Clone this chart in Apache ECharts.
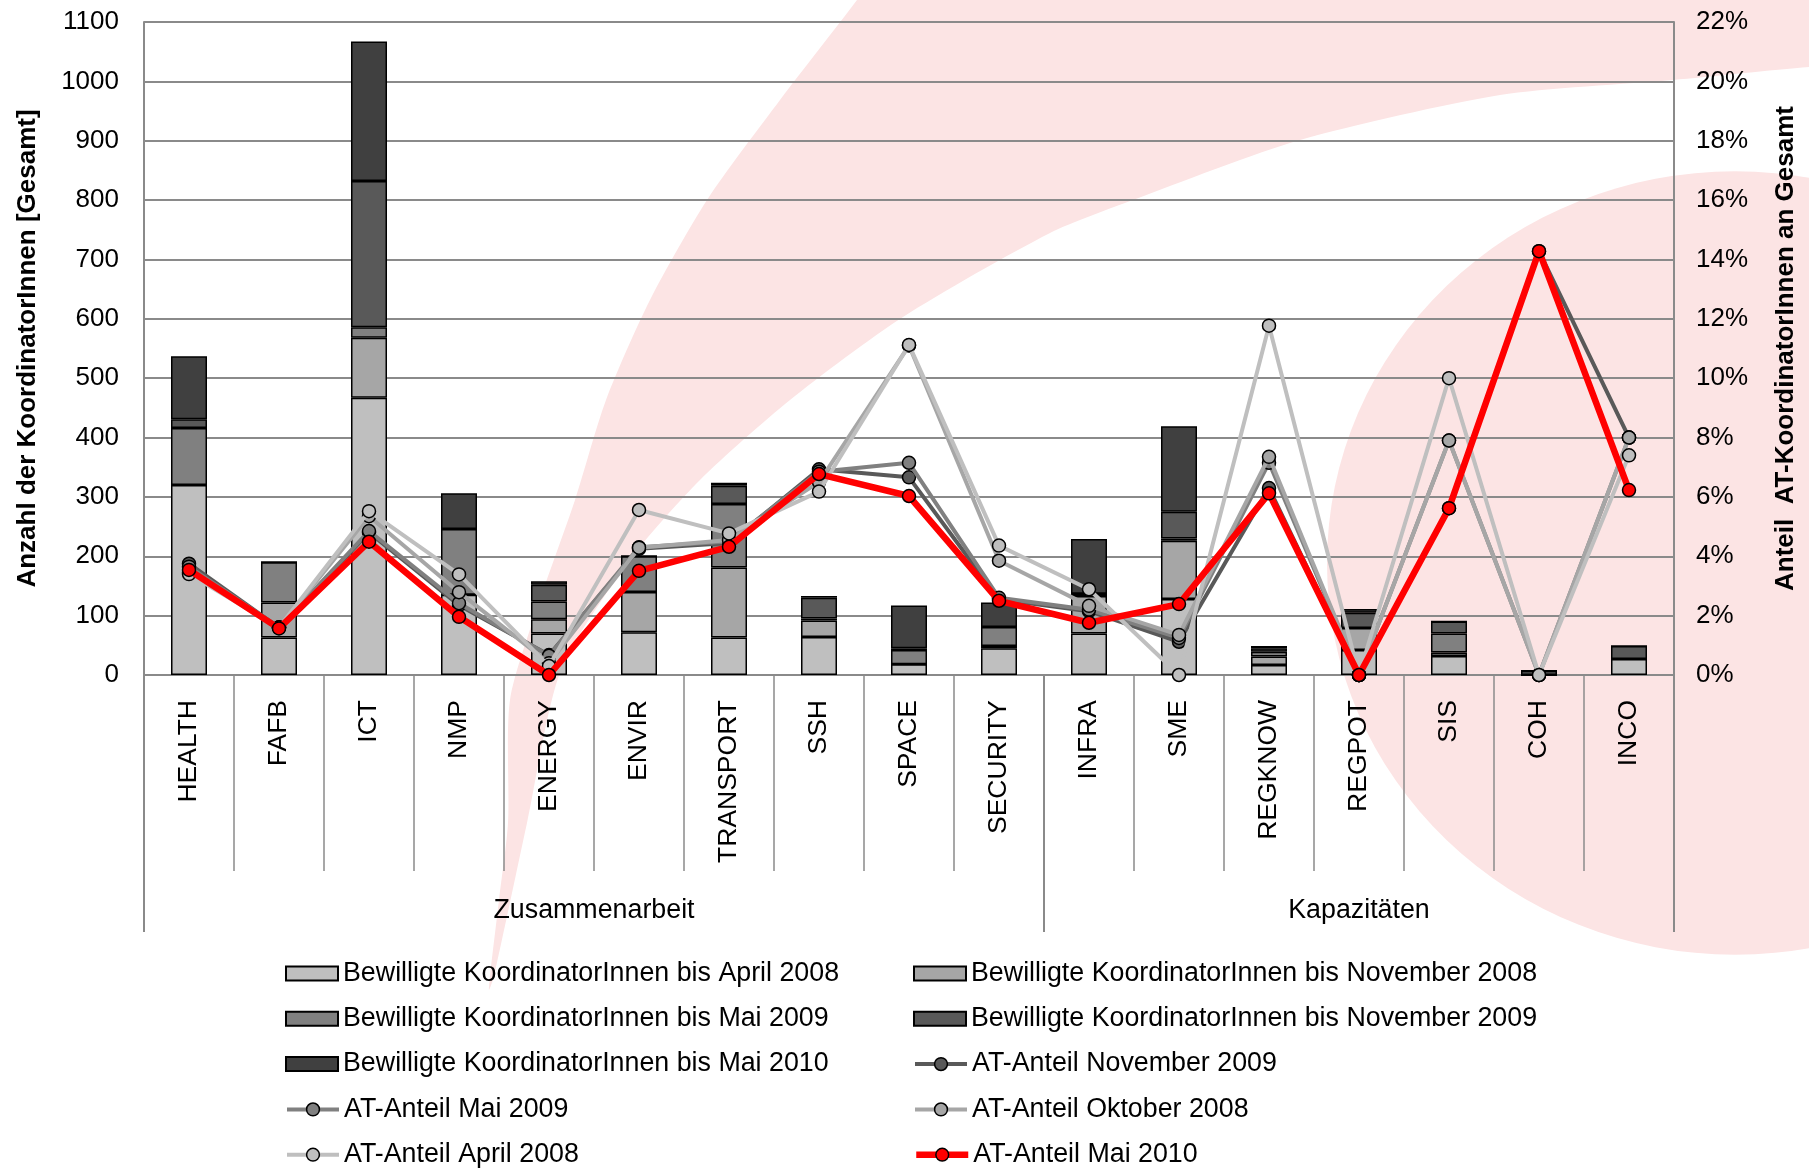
<!DOCTYPE html>
<html><head><meta charset="utf-8">
<script src="https://cdn.jsdelivr.net/npm/echarts@6/dist/echarts.min.js"></script>
<style>html,body{margin:0;padding:0;background:#fff}#c{width:1809px;height:1169px}</style>
</head><body><div id="c"></div>
<script>
// ---- data ----
const categories = ['HEALTH','FAFB','ICT','NMP','ENERGY','ENVIR','TRANSPORT','SSH','SPACE','SECURITY','INFRA','SME','REGKNOW','REGPOT','SIS','COH','INCO'];
const groupNames = ['Zusammenarbeit','Kapazitäten'];
const groupSizes = [10, 7];

// stacked increments (KoordinatorInnen)
const barApr08 = [320, 63, 467, 135, 70, 72, 63, 64, 18, 45, 70, 128, 17, 42, 32, 0, 27];
const barNov08 = [0, 59, 101, 0, 24, 68, 118, 28, 0, 4, 63, 98, 14, 37, 6, 0, 0];
const barMai09 = [96, 68, 18, 111, 30, 60, 107, 3, 24, 32, 4, 4, 8, 0, 32, 0, 0];
const barNov09 = [15, 0, 246, 0, 28, 0, 31, 35, 3, 0, 0, 45, 6, 26, 20, 7, 22];
const barMai10 = [106, 0, 235, 60, 6, 0, 5, 3, 72, 41, 92, 144, 4, 6, 0, 0, 0];

// AT-Anteil in %
const atNov09 = [3.75, 1.6, 4.8, 2.35, 0.67, 4.25, 4.45, 6.93, 6.66, 2.55, 2.15, 1.12, 6.3, 0, 5.62, 14.28, 8.0];
const atMai09 = [3.65, 1.6, 4.85, 2.42, 0.65, 4.3, 4.5, 6.85, 7.15, 2.6, 2.2, 1.25, 7.15, 0, 7.9, 0, 8.0];
const atOkt08 = [3.45, 1.6, 5.35, 2.79, 0.4, 4.29, 4.55, 6.5, 11.1, 3.85, 2.33, 1.35, 7.35, 0, 7.9, 0, 8.0];
const atApr08 = [3.4, 1.6, 5.52, 3.39, 0.3, 5.56, 4.77, 6.18, 11.12, 4.36, 2.89, 0, 11.77, 0, 10.0, 0, 7.4];
const atMai10 = [3.54, 1.57, 4.49, 1.96, 0, 3.51, 4.32, 6.77, 6.03, 2.5, 1.76, 2.39, 6.12, 0, 5.62, 14.28, 6.23];

const leftTicksMax = 1100, leftInterval = 100;
const rightTicksMax = 22, rightInterval = 2;

// ---- styling ----
const FONT = "'Liberation Sans', Arial, sans-serif";
const AXIS_GRAY = '#8a8a8a';
const PINK = '#FCE4E4';

const barDefs = [
  ['Bewilligte KoordinatorInnen bis April 2008', barApr08, '#BFBFBF'],
  ['Bewilligte KoordinatorInnen bis November 2008', barNov08, '#A6A6A6'],
  ['Bewilligte KoordinatorInnen bis Mai 2009', barMai09, '#808080'],
  ['Bewilligte KoordinatorInnen bis November 2009', barNov09, '#595959'],
  ['Bewilligte KoordinatorInnen bis Mai 2010', barMai10, '#404040']
];
const lineDefs = [
  ['AT-Anteil November 2009', atNov09, '#595959', 4],
  ['AT-Anteil Mai 2009', atMai09, '#808080', 4],
  ['AT-Anteil Oktober 2008', atOkt08, '#A6A6A6', 4],
  ['AT-Anteil April 2008', atApr08, '#BFBFBF', 4],
  ['AT-Anteil Mai 2010', atMai10, '#FF0000', 6.5]
];

const series = [];
barDefs.forEach(d => series.push({
  name: d[0], type: 'bar', stack: 'total', yAxisIndex: 0, barWidth: '40%',
  data: d[1], itemStyle: { color: d[2], borderColor: '#000', borderWidth: 1.5 },
  emphasis: { disabled: true }
}));
lineDefs.forEach((d, i) => series.push({
  name: d[0], type: 'line', yAxisIndex: 1, data: d[1], symbol: 'circle', symbolSize: 13,
  lineStyle: { color: d[2], width: d[3] },
  itemStyle: { color: d[2], borderColor: '#000', borderWidth: 1.5 },
  z: 3 + i, emphasis: { disabled: true }
}));

// legend: row-major order as in the reference (two columns)
const legendOrder = [
  barDefs[0][0], barDefs[1][0], barDefs[2][0], barDefs[3][0], barDefs[4][0],
  lineDefs[0][0], lineDefs[1][0], lineDefs[2][0], lineDefs[3][0], lineDefs[4][0]
];
const barNames = barDefs.map(d => d[0]);
const lineNames = lineDefs.map(d => d[0]);
const legendText = { fontFamily: FONT, fontSize: 26.8, color: '#000', lineHeight: 26 };
const legends = legendOrder.map((name, i) => {
  const row = Math.floor(i / 2), col = i % 2;
  const isBar = barNames.indexOf(name) >= 0;
  const lg = {
    left: col === 0 ? 280 : 908, top: 955 + row * 45.3,
    itemWidth: 52, itemHeight: isBar ? 14 : 16,
    selectedMode: false, textStyle: legendText,
    data: [name]
  };
  if (isBar) lg.icon = 'rect';
  else {
    const ld = lineDefs[lineNames.indexOf(name)];
    lg.lineStyle = { width: ld[3], color: ld[2] };
    lg.itemStyle = { color: ld[2], borderColor: '#000', borderWidth: 1.5 };
  }
  return lg;
});

const chart = echarts.init(document.getElementById('c'), null, { renderer: 'canvas' });
chart.setOption({
  animation: false,
  backgroundColor: '#fff',
  textStyle: { fontFamily: FONT },
  grid: { left: 144, right: 135, top: 22, bottom: 494, containLabel: false },
  legend: legends,
  xAxis: {
    type: 'category', data: categories,
    axisLine: { show: true, lineStyle: { color: AXIS_GRAY, width: 2 } },
    axisTick: { show: true, interval: 0, length: 196, lineStyle: { color: AXIS_GRAY, width: 1.5 } },
    axisLabel: { interval: 0, rotate: 90, margin: 25, fontSize: 26.5, color: '#000', fontFamily: FONT }
  },
  yAxis: [
    {
      type: 'value', min: 0, max: leftTicksMax, interval: leftInterval,
      name: 'Anzahl der KoordinatorInnen [Gesamt]', nameLocation: 'middle', nameGap: 103, nameRotate: 90,
      nameTextStyle: { fontSize: 26, fontWeight: 'bold', color: '#000', fontFamily: FONT },
      axisLine: { show: true, lineStyle: { color: AXIS_GRAY, width: 2 } },
      axisTick: { show: false },
      axisLabel: { fontSize: 26, color: '#000', margin: 25, fontFamily: FONT, formatter: v => String(v) },
      splitLine: { show: true, lineStyle: { color: AXIS_GRAY, width: 2 } }
    },
    {
      type: 'value', min: 0, max: rightTicksMax, interval: rightInterval, position: 'right',
      name: 'Anteil  AT-KoordinatorInnen an Gesamt', nameLocation: 'middle', nameGap: 99, nameRotate: 90,
      nameTextStyle: { fontSize: 26, fontWeight: 'bold', color: '#000', fontFamily: FONT },
      axisLine: { show: true, lineStyle: { color: AXIS_GRAY, width: 2 } },
      axisTick: { show: false },
      axisLabel: { fontSize: 26, color: '#000', margin: 22, formatter: v => v + '%', fontFamily: FONT },
      splitLine: { show: false }
    }
  ],
  series: series
});

// ---- decorations & group axis, placed through the chart's own scales ----
const graphics = [];
graphics.push({
  type: 'polygon', z: -100, silent: true,
  shape: { smooth: 0.25, points: [
    [489,990],[490,976],[499,900],[508,823],[510,700],[540,600],[575,500],[606,400],[650,300],[707,200],[780,100],[857,0],[885,-40],
    [1850,-40],[1850,66],[1809,67],[1673,80],[1500,95],[1300,140],[1133,200],[1050,233],[903,317],[790,400],[700,480],[633,556],[561,670],[527,823],[494,976]
  ] },
  style: { fill: PINK }
});
graphics.push({
  type: 'circle', z: -100, silent: true, x: 1735, y: 563, scaleY: 0.96,
  shape: { cx: 0, cy: 0, r: 408 }, style: { fill: PINK }
});

const c0 = chart.convertToPixel({ xAxisIndex: 0 }, categories[0]);
const c1 = chart.convertToPixel({ xAxisIndex: 0 }, categories[1]);
const bw = c1 - c0;
const y0 = chart.convertToPixel({ yAxisIndex: 0 }, 0);
let startIdx = 0;
const bounds = [c0 - bw / 2];
groupSizes.forEach((n, gi) => {
  const left = c0 - bw / 2 + startIdx * bw;
  const right = left + n * bw;
  bounds.push(right);
  graphics.push({
    type: 'text', silent: true, x: (left + right) / 2, y: y0 + 236,
    style: { text: groupNames[gi], font: '26.8px ' + FONT, fill: '#000', align: 'center', verticalAlign: 'middle' }
  });
  startIdx += n;
});
bounds.forEach(x => graphics.push({
  type: 'line', silent: true, shape: { x1: x, y1: y0, x2: x, y2: y0 + 257 },
  style: { stroke: AXIS_GRAY, lineWidth: 2 }
}));
chart.setOption({ graphic: graphics });
</script></body></html>
